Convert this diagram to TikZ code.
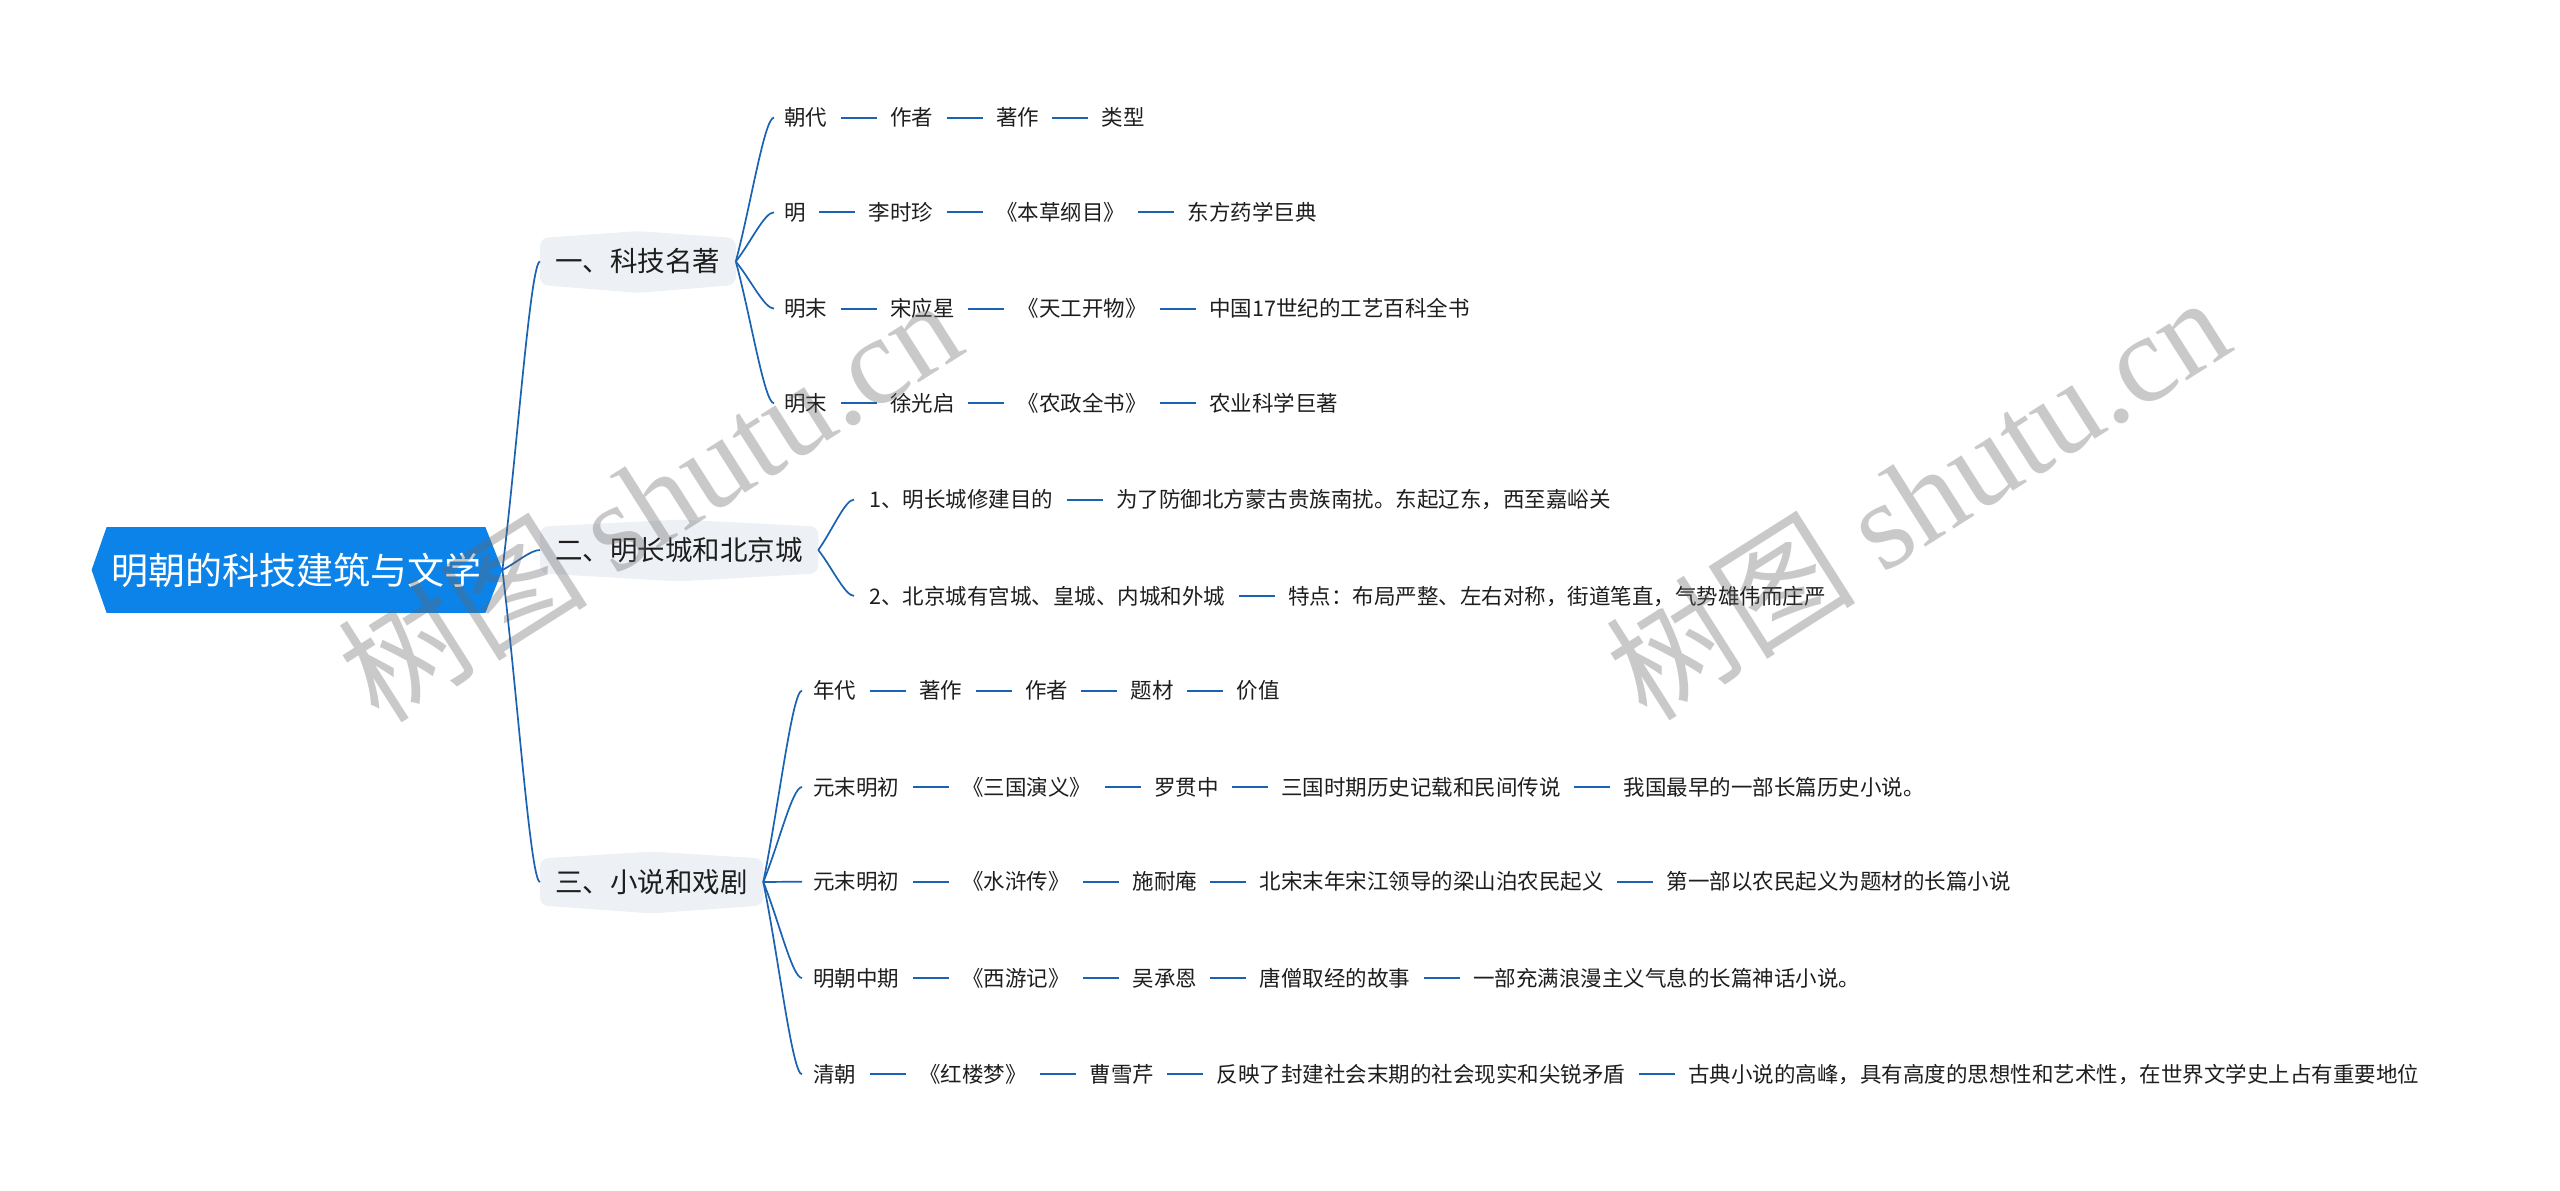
\documentclass[tikz,border=0pt]{standalone}
\usepackage{fontspec}
\setmainfont{Noto Sans CJK SC}
\newfontfamily\wmlatin{Liberation Serif}
\usetikzlibrary{calc,positioning,backgrounds}
\definecolor{linkc}{RGB}{26,98,178}
\definecolor{rootc}{RGB}{12,131,232}
\definecolor{lonefill}{RGB}{237,240,244}
\definecolor{txtc}{RGB}{30,30,30}
\tikzset{
  link/.style={draw=linkc, line width=0.85pt},
  chainln/.style={draw=linkc, line width=1.1pt},
  leaf/.style={font=\fontsize{10.75pt}{12pt}\selectfont, text=txtc, inner xsep=6.5pt, inner ysep=0pt, text height=9.46pt, text depth=1.29pt},
  lone/.style={font=\fontsize{13.75pt}{16pt}\selectfont, text=txtc, inner xsep=7.5pt, inner ysep=0pt, minimum height=23pt, text height=12.1pt, text depth=1.65pt, anchor=west},
  rootn/.style={font=\fontsize{18.5pt}{22pt}\selectfont, text=white, inner xsep=2pt, inner ysep=0pt, minimum height=42.5pt, text height=16.3pt, text depth=2.2pt},
  wm/.style={font=\fontsize{62.5pt}{64pt}\selectfont, text=black!60, text opacity=0.35, inner sep=0pt},
}
\newcommand\mmlink[2]{\draw[link] let \p1=(#1), \p2=(#2) in (\p1) .. controls ($(\p1)!0.4!(\p2)$) and ({0.75*\x2+0.25*\x1},\y2) .. (\p2);}
\newcommand\lonebg[1]{\fill[lonefill, rounded corners=4pt] (#1.north west) -- ($(#1.north)+(0,3.5pt)$) -- (#1.north east) -- (#1.south east) -- ($(#1.south)+(0,-4pt)$) -- (#1.south west) -- cycle;}
\newcommand\chainto[2]{\foreach \i in {2,...,#2}{\pgfmathtruncatemacro\j{\i-1}\draw[chainln] (#1\j) -- (#1\i);}}
\begin{document}
\begin{tikzpicture}[x=0.5pt,y=-0.5pt]
\begin{scope}[on background layer]
\fill[white] (0,0) rectangle (2560,1190);
\end{scope}
\useasboundingbox (0,0) rectangle (2560,1190);

% root
\node[rootn] (root) at (296,570) {明朝的科技建筑与文学};
\coordinate (rtip) at ($(root.east)+(8.5pt,0)$);
\coordinate (ltip) at ($(root.west)+(-7.5pt,0)$);
\begin{scope}[on background layer]
\fill[rootc] (root.north west) -- (root.north east) -- (rtip) -- (root.south east) -- (root.south west) -- (ltip) -- cycle;
\end{scope}

% level 1
\node[lone] (k1) at (540,261.5) {一、科技名著};
\node[lone] (k2) at (540,550) {二、明长城和北京城};
\node[lone] (k3) at (540,882) {三、小说和戏剧};
\begin{scope}[on background layer]
\lonebg{k1}\lonebg{k2}\lonebg{k3}
\end{scope}
\mmlink{rtip}{k1.west}
\mmlink{rtip}{k2.west}
\mmlink{rtip}{k3.west}

% branch 1
\node[leaf,anchor=west] (a11) at (771,117.6) {朝代};
\node[leaf,right=18pt of a11] (a12) {作者};
\node[leaf,right=18pt of a12] (a13) {著作};
\node[leaf,right=18pt of a13] (a14) {类型};
\node[leaf,anchor=west] (a21) at (771,212.3) {明};
\node[leaf,right=18pt of a21] (a22) {李时珍};
\node[leaf,right=18pt of a22] (a23) {《本草纲目》};
\node[leaf,right=18pt of a23] (a24) {东方药学巨典};
\node[leaf,anchor=west] (a31) at (771,308.6) {明末};
\node[leaf,right=18pt of a31] (a32) {宋应星};
\node[leaf,right=18pt of a32] (a33) {《天工开物》};
\node[leaf,right=18pt of a33] (a34) {中国17世纪的工艺百科全书};
\node[leaf,anchor=west] (a41) at (771,403.3) {明末};
\node[leaf,right=18pt of a41] (a42) {徐光启};
\node[leaf,right=18pt of a42] (a43) {《农政全书》};
\node[leaf,right=18pt of a43] (a44) {农业科学巨著};
\chainto{a1}{4}\chainto{a2}{4}\chainto{a3}{4}\chainto{a4}{4}
\mmlink{k1.east}{$(a11.west)+(1.5pt,0)$}
\mmlink{k1.east}{$(a21.west)+(1.5pt,0)$}
\mmlink{k1.east}{$(a31.west)+(1.5pt,0)$}
\mmlink{k1.east}{$(a41.west)+(1.5pt,0)$}

% branch 2
\node[leaf,anchor=west] (b11) at (856,499.6) {1、明长城修建目的};
\node[leaf,right=18pt of b11] (b12) {为了防御北方蒙古贵族南扰。东起辽东，西至嘉峪关};
\node[leaf,anchor=west] (b21) at (856,595.9) {2、北京城有宫城、皇城、内城和外城};
\node[leaf,right=18pt of b21] (b22) {特点：布局严整、左右对称，街道笔直，气势雄伟而庄严};
\chainto{b1}{2}\chainto{b2}{2}
\mmlink{k2.east}{$(b11.west)+(-1pt,0)$}
\mmlink{k2.east}{$(b21.west)+(-1pt,0)$}

% branch 3
\node[leaf,anchor=west] (c11) at (800,690.6) {年代};
\node[leaf,right=18pt of c11] (c12) {著作};
\node[leaf,right=18pt of c12] (c13) {作者};
\node[leaf,right=18pt of c13] (c14) {题材};
\node[leaf,right=18pt of c14] (c15) {价值};
\node[leaf,anchor=west] (c21) at (800,787) {元末明初};
\node[leaf,right=18pt of c21] (c22) {《三国演义》};
\node[leaf,right=18pt of c22] (c23) {罗贯中};
\node[leaf,right=18pt of c23] (c24) {三国时期历史记载和民间传说};
\node[leaf,right=18pt of c24] (c25) {我国最早的一部长篇历史小说。};
\node[leaf,anchor=west] (c31) at (800,881.7) {元末明初};
\node[leaf,right=18pt of c31] (c32) {《水浒传》};
\node[leaf,right=18pt of c32] (c33) {施耐庵};
\node[leaf,right=18pt of c33] (c34) {北宋末年宋江领导的梁山泊农民起义};
\node[leaf,right=18pt of c34] (c35) {第一部以农民起义为题材的长篇小说};
\node[leaf,anchor=west] (c41) at (800,978) {明朝中期};
\node[leaf,right=18pt of c41] (c42) {《西游记》};
\node[leaf,right=18pt of c42] (c43) {吴承恩};
\node[leaf,right=18pt of c43] (c44) {唐僧取经的故事};
\node[leaf,right=18pt of c44] (c45) {一部充满浪漫主义气息的长篇神话小说。};
\node[leaf,anchor=west] (c51) at (800,1074.3) {清朝};
\node[leaf,right=18pt of c51] (c52) {《红楼梦》};
\node[leaf,right=18pt of c52] (c53) {曹雪芹};
\node[leaf,right=18pt of c53] (c54) {反映了封建社会末期的社会现实和尖锐矛盾};
\node[leaf,right=18pt of c54] (c55) {古典小说的高峰，具有高度的思想性和艺术性，在世界文学史上占有重要地位};
\chainto{c1}{5}\chainto{c2}{5}\chainto{c3}{5}\chainto{c4}{5}\chainto{c5}{5}
\mmlink{k3.east}{$(c11.west)+(1pt,0)$}
\mmlink{k3.east}{$(c21.west)+(1pt,0)$}
\mmlink{k3.east}{$(c31.west)+(1pt,0)$}
\mmlink{k3.east}{$(c41.west)+(1pt,0)$}
\mmlink{k3.east}{$(c51.west)+(1pt,0)$}

% watermarks
\node[wm, rotate=32.4] (wm1) at (649,498) {树图 {\wmlatin shutu.cn}};
\node[wm, rotate=32.4] (wm2) at (1917,496) {树图 {\wmlatin shutu.cn}};
\end{tikzpicture}
\end{document}
